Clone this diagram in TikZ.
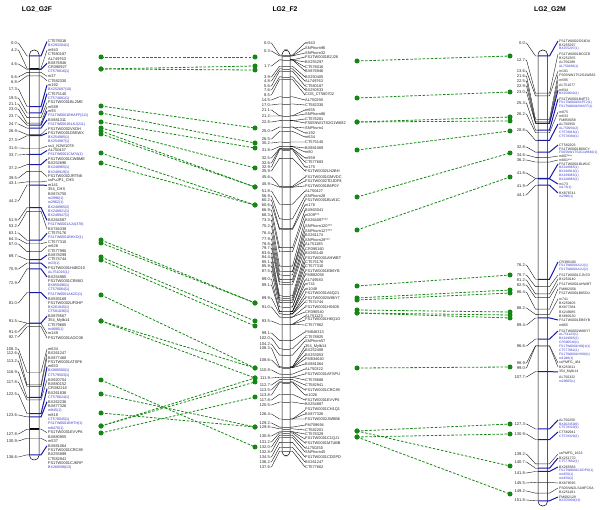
\documentclass[tikz,border=0pt]{standalone}
\usepackage{fontspec}
\setmainfont{Liberation Sans}
\usetikzlibrary{positioning}
\definecolor{mapblue}{RGB}{25,25,170}
\definecolor{labblue}{RGB}{55,55,200}
\definecolor{linkgreen}{RGB}{20,135,20}
\tikzset{
  ttl/.style={font=\fontsize{6.8}{7}\selectfont\bfseries, inner sep=0pt},
  num/.style={font=\fontsize{4.1}{5}\selectfont, anchor=east, inner sep=0pt, text=black!85},
  labk/.style={font=\fontsize{3.9}{5}\selectfont, anchor=west, inner sep=0pt, text=black!85},
  labb/.style={labk, font=\fontsize{3.6}{5}\selectfont, text=labblue},
  mlabk/.style={labk, font=\fontsize{3.5}{5}\selectfont},
  mlabb/.style={labk, font=\fontsize{3.3}{5}\selectfont, text=labblue},
  chrom/.style={draw=black, line width=0.5pt, rounded corners=4.5pt},
  tick/.style={draw=black, line width=0.35pt},
  lnk/.style={draw=black!80, line width=0.45pt},
  lnb/.style={draw=mapblue, line width=1pt},
  lng/.style={draw=black!55, line width=0.45pt},
  band/.style={draw=black, line width=1.8pt},
  dot/.style={circle, fill=linkgreen, inner sep=0pt, minimum size=5pt},
  link/.style={draw=linkgreen, line width=0.8pt, dash pattern=on 2.5pt off 1.6pt},
}
\begin{document}
\begin{tikzpicture}[x=1pt,y=-1pt]
\useasboundingbox (0,0) rectangle (600,510);
% titles
\node[ttl] (tgf) at (37,10) {LG2\_G2F};
\node[ttl] (tf) at (285,10) {LG2\_F2};
\node[ttl] (tgm) at (550,10) {LG2\_G2M};

% ---- LG2_G2F ----
\draw[chrom] (29.5,50) rectangle (39,460);
\draw[band] (29.5,69.4) -- (39,69.4);
\draw[band] (29.5,429.2) -- (39,429.2);
\foreach \t/\s [count=\i] in {CT578016/labk, BX293204(1)/labb, m943/labk, CT580187/labk, AL749763/labk, BX876946/labk, CR390927/labk, CT578016(1)/labb, m37/labk, CT582330/labk, m192/labk, BX252697(10)/labb, CT575140/labk, CT574681(1)/labb, FS1TW0001BL2ME/labk, m589/labk, m93/labk, FS1TW0001BHAFF(211)/labb, BX881311/labk, FS1TW0001BLKJ(211)/labb, FS1TW0002VXDH/labk, FS1TW0001D5EWX/labk, BX254985(1)/labb, BX254987(1)/labb, ss1\_N2W1078/labk, AL750437/labk, FS1TW0001CM7A(1)/labb, FS1TW0001CWBME/labk, BX252696/labk, BX248965(1)/labb, BX248919(1)/labb, FS1TW0002JRTN8/labk, ssPuJP1\_CHS/labk, m141/labk, 354\_CHS/labk, BX874750/labk, m2996(1)/labb, m2962(1)/labb, BX248965(2)/labb, BX248921(1)/labb, BX248947(1)/labb, BX264587/labk, FS1TW0001AJU(378)/labb, BX784338/labk, CT575176/labk, FS1TW0001BHXO(1)/labb, CT577310/labk, m628/labk, CT577990/labk, BX878299/labk, CT574744/labk, m23(1)/labb, FS1TW0001H4BO10/labk, AL751016(1)/labb, BX254965/labk, FS1TW0001CR88O/labk, BX850496(1)/labb, CT576064(1)/labb, FS1TW0001AK2G(1)/labb, BX593169/labk, FS1TW0002UF0HP/labk, BX261845(1)/labb, CT581036(1)/labb, BX878567/labk, 354\_Mylb14/labk, CT579665/labk, m4890(1)/labb, m149/labk, FS1TW0001AOO38/labk}{
  \node[\s] (gfa\i) at (48,{41.5+(\i-1)*4.36}) {\t};
}
\foreach \t/\s [count=\i] in {m634/labk, BX261247/labk, BX877460/labk, FS1TW0001ATSP6/labk, m653/labk, BX880560(1)/labb, CT579503(1)/labb, BX920704/labk, BX880152/labk, CR392218/labk, BX261838/labk, CT578624(1)/labb, BX262236/labk, BX877326/labk, m845(1)/labb, m818/labk, CT578045(1)/labb, FS1TW0001BHTH(1)/labb, m8470(1)/labb, FS1TW0001EVVP6/labk, BX880955/labk, m537/labk, BX881064/labk, FS1TW0001CRC89/labk, BX255899/labk, CT582941/labk, FS1TW0001CJKRP/labk, BX260598(13)/labb}{
  \node[\s] (gfb\i) at (48,{349+(\i-1)*4.4}) {\t};
}
\foreach \c/\ny/\ly/\s [count=\i] in {0.0/43/41.5/lnb, 4.2/50/50.2/lnk, 4.6/64/63.3/lnb, 5.6/77/76.4/lnk, 6.8/82/80.7/lnk, 17.3/89/85.1/lnb, 19.5/98/93.8/lnb, 21.1/104/102.5/lnk, 23.0/109/106.9/lnk, 23.7/116/111.3/lnb, 24.7/124/120/lnb, 26.9/131/128.7/lnk, 27.3/140/133.1/lnb, 31.6/148/146.2/lnk, 33.7/155/150.5/lnb, 37.2/168/159.2/lnb, 39.5/178/176.6/lnk, 43.1/183/181/lnk, 44.2/201/185.4/lnb, 51.9/220/220.3/lnb, 53.2/226/229/lnk, 63.1/233/233.3/lnb, 64.3/239/242.1/lnk, 67.0/244/246.4/lnk, 69.7/256/255.1/lnb, 70.9/269/268.2/lnb, 72.9/283/277/lnb, 81.0/303/298.7/lnb, 91.5/321/316.2/lnb, 91.6/332/333.6/lnk, 92.7/337/338/lnk, 108.3/349/349/lnk, 112.6/353/353.4/lnk, 113.2/361/357.8/lnk, 116.9/372/366.6/lnb, 117.8/382/379.8/lnk, 122.5/394/388.6/lnb, 123.6/415/401.8/lnb, 127.8/434/432.6/lnk, 130.9/441/441.4/lnk, 136.6/457/445.8/lnb}{
  \pgfmathsetmacro\yb{56+2.92*\c}
  \node[num] (gfn\i) at (17,\ny) {\c};
  \draw[tick] (gfn\i.east) -- ++(1.5,0) -- (27,\yb) -- (29.5,\yb);
  \draw[\s] (29.5,\yb) -- (41,\yb) -- (47,\ly);
}

% ---- LG2_F2 ----
\draw[chrom] (282,50) rectangle (290,456);
\foreach \c/\ny [count=\i] in {0.0/43, 0.3/51, 1.7/66, 3.9/77, 4.8/81, 5.6/86, 7.6/90, 8.5/95, 14.5/100, 17.0/105, 21.1/110, 21.2/116, 22.8/122, 25.0/131, 26.5/139, 30.2/143, 31.8/150, 32.5/158, 32.6/163, 32.9/167, 35.9/171, 45.6/177, 45.9/184, 51.8/191, 56.9/196, 60.2/200, 60.6/205, 66.9/210, 68.3/215, 73.3/220, 75.2/226, 76.4/233, 77.9/239, 78.8/244, 79.7/248, 83.6/253, 84.4/257, 85.1/262, 85.9/266, 87.5/271, 89.0/279, 89.1/285, 89.9/298, 91.0/307, 93.5/321, 99.1/333, 102.0/338, 104.2/344, 108.3/348, 108.6/360, 110.8/370, 111.9/378, 112.7/385, 113.5/390, 113.8/395, 117.8/400, 120.5/405, 126.4/414, 129.2/423, 129.8/427, 130.8/436, 131.2/442, 132.0/447, 132.8/452, 134.5/457, 136.2/462, 137.6/467}{
  \pgfmathsetmacro\yb{55+2.88*\c}
  \node[num] (fn\i) at (270,\ny) {\c};
  \draw[tick] (fn\i.east) -- ++(1.5,0) -- (279.5,\yb) -- (282,\yb);
  \draw[lng] (282,\yb) -- (290,\yb);
}
\foreach \ly/\c/\t [count=\i] in {43/0.0/m943, 48/0.3/SNPhorn96, 53/0.3/SNPhorn32, 57/1.7/FS1TW0001B2J28, 62/1.7/BX255297, 67/1.7/CT578016, 71/1.7/BX876946, 77/3.9/BX250405, 81/4.8/AL749763, 86/5.6/CT580187, 90/7.6/BX250533, 95/8.5/COS\_CT580702, 100/14.5/AL750290, 105/17.0/CT582330, 110/21.1/m655, 114/21.2/SNPhorn86, 119/22.8/CT576281, 123/22.8/FS05NW1TS2G1W682, 128/25.0/SNPhorn4, 133/25.0/m192, 137/26.5/m634, 142/30.2/CT575140, 148/31.8/BX881069, 152/31.8/m80, 158/32.5/m959, 162/32.6/CT577683, 167/32.9/m175, 171/35.9/FS1TW0002LN2BH, 177/45.6/FS1TW0001GMVDC, 181/45.9/FS1TW0002TDJDF8, 186/45.9/FS1TW0001B6P0Y, 191/51.8/AL750427, 196/56.9/SNPhorn28, 200/60.2/FS1TW0001BLW1C, 205/60.6/m176, 210/66.9/BX863041, 215/68.3/m209***, 220/73.3/BX264087***, 226/75.2/SNPhorn120***, 231/75.2/SNPhorn127***, 235/76.4/BX261174, 240/77.9/SNPhorn29***, 244/78.8/AL751185, 249/79.7/CR390160, 253/83.6/BX265140, 258/84.4/FS1TW0001AHWBT, 262/85.1/CT575176, 266/85.9/CT577310, 271/87.5/FS1TW0001EB6YB, 275/87.5/FM882058, 280/89.0/AL749583, 284/89.1/m741, 289/89.1/m1048, 294/89.9/FS1TW0001A6Q21, 298/89.9/FS1TW0002W86Y7, 302/89.9/CT574744, 307/91.0/FS1TW0001HS608, 312/91.0/CR390540, 316/93.5/AL751123, 320/93.5/FS1TW0001H8Q1O, 325/93.5/CT577962, 332/99.1/FM848313, 337/102.0/CT578925, 341/104.2/SNPhorn57, 346/108.3/354\_Mylb14, 350/108.3/BX252408, 355/108.6/BX253053, 359/108.6/FM834640, 364/108.6/BX881064, 369/110.8/AL750322, 374/111.9/FS1TW0001AFSPU, 380/111.9/CT578688, 385/112.7/CT582941, 390/113.5/FS1TW0001CRC89, 395/113.8/m1026, 400/117.8/FS1TW0001EVVP6, 404/120.5/BX254887, 410/126.4/FS1TW0001CH1Q1, 414/126.4/BX877326, 419/126.4/FS1TW0002JWBB6, 425/129.2/FM709694, 430/129.8/CT582201, 434/130.8/CT578329, 439/130.8/FS1TW0001C1QJ1, 443/131.2/FS1TW0001M7UBB, 448/132.0/AL750250, 452/132.8/SNPhorn45, 457/134.5/FS1TW0001CDDPD, 462/136.2/BX261247, 467/137.6/CT577662}{
  \pgfmathsetmacro\yb{55+2.88*\c}
  \node[labk] (fl\i) at (305,\ly) {\t};
  \draw[tick] (290,\yb) -- (292.5,\yb) -- (fl\i.west);
}

% ---- LG2_G2M ----
\draw[chrom] (538,50) rectangle (547.5,506);
\foreach \ly/\t/\s [count=\i] in {41/FS1TW0002O54DU/mlabk, 45/BX255297/mlabk, 49/BX255297(1)/mlabb, 54/FS1TW0001BC0ZD/mlabk, 58/BX252355/mlabk, 62/AL750289/mlabk, 67/AL750289(1)/mlabb, 71/m191/mlabk, 75/FS05NW1TS2G1W682/mlabk, 80/m595/mlabk, 85/AL751077/mlabk, 90/m634/mlabk, 94/BX250640(1)/mlabb, 99/FS1TW0001B4PT2/mlabk, 103/FS1TW0001B4PT2(1)/mlabb, 107/FS1TW0001BHAFF(1)/mlabb, 112/m875/mlabk, 116/m633/mlabk, 120/FM858058/mlabk, 124/AL750950/mlabk, 129/AL750950(2)/mlabb, 133/CT578016(1)/mlabb, 137/CT578390(1)/mlabb, 145/CT582203/mlabk, 149/FS1TW0001B80CY/mlabk, 153/FS05NW1TS2G1W682(1)/mlabb, 156/m807***/mlabk, 160/m801***/mlabk, 164/FS1TW0001BLW1C/mlabk, 168/BX248965(1)/mlabb, 172/BX248919(1)/mlabb, 176/BX249065(1)/mlabb, 180/BX248965(2)/mlabb, 184/m173/mlabk, 188/m173(1)/mlabb, 193/BX878741/mlabk, 197/m2996(1)/mlabb, 262/CR390160/mlabk, 266/FS1TW0001AJU(1)/mlabb, 270/FS1TW0001AJU(2)/mlabb, 275/FS1TW0001CJN7D/mlabk, 279/BX250140/mlabk, 284/FS1TW0001AHWBT/mlabk, 289/FM882058/mlabk, 293/FS1TW0001B85DU/mlabk, 299/m741/mlabk, 303/BX250405/mlabk, 307/BX877384/mlabk, 312/BX249985/mlabk, 316/BX880130/mlabk, 320/FS1TW0001EB6YB/mlabk, 325/m865/mlabk, 331/FS1TW0002W86Y7/mlabk, 335/AL751123(1)/mlabb, 339/BX249985(2)/mlabb, 343/CR390540(1)/mlabb, 347/FS1TW0001H8Q1(1)/mlabb, 351/CT577962(1)/mlabb, 355/FS1TW0001HS60(1)/mlabb, 359/m1048(1)/mlabb, 363/ssPMFG\_464/mlabk, 367/BX253611/mlabk, 372/354\_Mylb14/mlabk, 377/AL750322/mlabk, 382/m29605(1)/mlabb, 420/AL750250/mlabk, 425/BX262450(6)/mlabb, 428/CT578329(1)/mlabb, 432/CT582941/mlabk, 437/CT578329(2)/mlabb, 454/ssPMFG\_1623/mlabk, 458/BX251770/mlabk, 462/CT577662(1)/mlabb, 467/BX265383/mlabk, 471/FS1TW0001CDDPD(1)/mlabb, 475/m4870(1)/mlabb, 479/m4870(2)/mlabb, 483/BX876595/mlabk, 488/FS05NW2LS1MFCKA/mlabk, 492/BX251181/mlabk, 497/FM092129/mlabk, 501/BX255899(13)/mlabb}{
  \node[\s] (gml\i) at (559,\ly) {\t};
}
\foreach \c/\ny/\ly/\s [count=\i] in {0.0/43/41/lnb, 12.7/60/54/lnk, 13.6/71/71/lnk, 21.6/76/75/lnk, 22.5/81/80/lnk, 22.9/86/85/lnk, 23.0/92/90/lnb, 25.3/103/99/lnb, 26.2/114/112/lnk, 28.8/130/124/lnb, 32.8/147/145/lnb, 34.6/155/156/lnk, 36.2/160/160/lnk, 41.8/173/164/lnb, 41.9/186/184/lnb, 44.1/195/193/lnb, 76.2/265/262/lnb, 78.7/275/275/lnk, 81.2/280/279/lnk, 82.5/285/284/lnk, 86.4/292/289/lnk, 88.2/308/299/lnk, 89.4/325/320/lnb, 96.6/346/331/lnb, 98.9/363/363/lnk, 99.0/368/367/lnk, 107.7/377/372/lnb, 127.3/424/420/lnb, 130.9/434/432/lnb, 139.2/454/454/lnk, 140.7/462/458/lnb, 141.8/473/467/lnb, 145.5/483/483/lnk, 149.2/491/488/lnk, 151.8/500/497/lnb}{
  \pgfmathsetmacro\yb{56+2.93*\c}
  \node[num] (gmn\i) at (525,\ny) {\c};
  \draw[tick] (gmn\i.east) -- ++(1.5,0) -- (535.5,\yb) -- (538,\yb);
  \draw[\s] (538,\yb) -- (549.5,\yb) -- (558,\ly);
}

% links G2F - F2
\foreach \a/\b [count=\i] in {57/57, 69/66, 69/70, 106/128, 113/143, 122/148, 128/168, 131/187, 134/187, 153/205, 163/205, 240/303, 243/303, 257/321, 260/326, 295/368, 321/368, 321/378, 380/447, 394/427, 413/427, 426/382, 426/378, 433/397}{
  \node[dot] (la\i) at (101,\a) {};
  \node[dot] (lb\i) at (255,\b) {};
  \draw[link] (la\i.center) -- (lb\i.center);
}
% links F2 - G2M
\foreach \a/\b [count=\i] in {61/56, 98/92, 122/117, 122/121, 150/131, 197/153, 230/177, 286/275, 298/290, 300/293, 310/312, 313/315, 313/318, 368/367, 431/424, 437/434, 431/466, 437/494}{
  \node[dot] (ra\i) at (357,\a) {};
  \node[dot] (rb\i) at (510,\b) {};
  \draw[link] (ra\i.center) -- (rb\i.center);
}
\end{tikzpicture}
\end{document}
